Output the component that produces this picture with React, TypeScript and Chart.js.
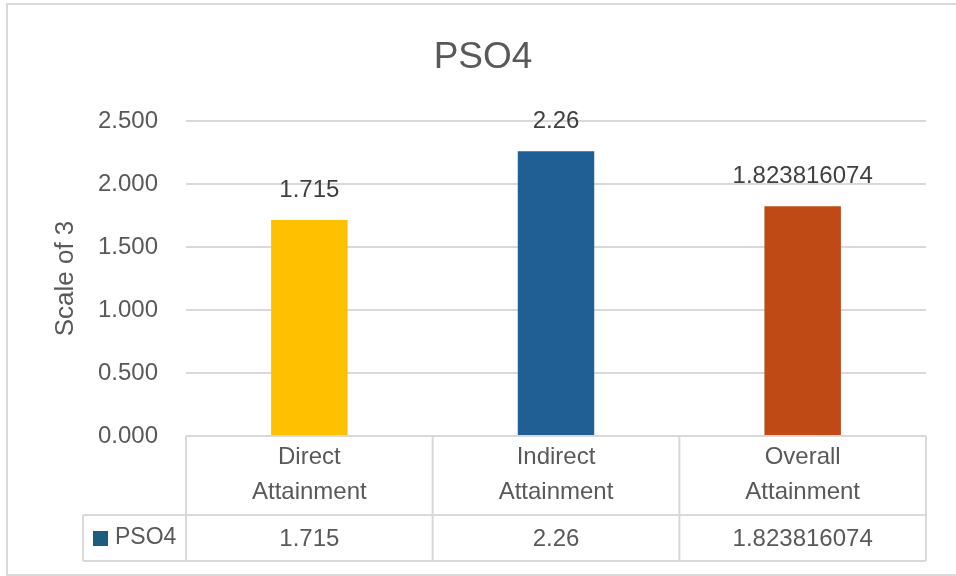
import React, { useEffect, useRef } from "react";
import { Chart, registerables } from "chart.js";

Chart.register(...registerables);

// Chart content
const chartTitle = "PSO4";
const axisTitle = "Scale of 3";
const seriesName = "PSO4";
const categories: string[][] = [
  ["Direct", "Attainment"],
  ["Indirect", "Attainment"],
  ["Overall", "Attainment"],
];
const values: number[] = [1.715, 2.26, 1.823816074];
const barColors: string[] = ["#FFC000", "#1F5F94", "#BF4A16"];
const legendKeyColor = "#1D5C7E";
const yMin = 0;
const yMax = 2.5;
const yStep = 0.5;

const FONT = "'Liberation Sans', Arial, sans-serif";
const TEXT = "#595959";
const LINE = "#D9D9D9";

// Draws the frame, the title, value labels and the data table under the axis
const decorations = {
  id: "decorations",
  beforeDraw(chart: Chart) {
    const { ctx, width, height } = chart;
    ctx.save();
    ctx.fillStyle = "#ffffff";
    ctx.fillRect(0, 0, width, height);
    ctx.strokeStyle = LINE;
    ctx.lineWidth = 2;
    ctx.strokeRect(7, 4, width + 10, height - 5);
    ctx.fillStyle = TEXT;
    ctx.font = `37px ${FONT}`;
    ctx.textAlign = "center";
    ctx.textBaseline = "alphabetic";
    ctx.fillText(chartTitle, 483, 68);
    ctx.restore();
  },
  afterDatasetsDraw(chart: Chart) {
    const { ctx } = chart;
    const meta = chart.getDatasetMeta(0);
    ctx.save();
    ctx.fillStyle = "#404040";
    ctx.font = `24px ${FONT}`;
    ctx.textAlign = "center";
    ctx.textBaseline = "alphabetic";
    meta.data.forEach((bar: any, i: number) => {
      ctx.fillText(String(values[i]), bar.x, bar.y - 23);
    });
    ctx.restore();
  },
  afterDraw(chart: Chart) {
    const { ctx, chartArea } = chart;
    const xs: any = chart.scales.x;
    const n = categories.length;
    const colW = (chartArea.right - chartArea.left) / n;
    const top = chartArea.bottom;
    const headerH = 79;
    const rowH = 46;
    const legendLeft = 83;
    const rowTop = top + headerH;
    const rowBottom = rowTop + rowH;

    ctx.save();
    ctx.strokeStyle = LINE;
    ctx.lineWidth = 2;
    ctx.beginPath();
    ctx.moveTo(chartArea.left, top);
    ctx.lineTo(chartArea.right, top);
    ctx.moveTo(legendLeft, rowTop);
    ctx.lineTo(chartArea.right, rowTop);
    ctx.moveTo(legendLeft, rowBottom);
    ctx.lineTo(chartArea.right, rowBottom);
    for (let i = 0; i <= n; i++) {
      const x = chartArea.left + i * colW;
      ctx.moveTo(x, top);
      ctx.lineTo(x, rowBottom);
    }
    ctx.moveTo(legendLeft, rowTop);
    ctx.lineTo(legendLeft, rowBottom);
    ctx.stroke();

    ctx.fillStyle = TEXT;
    ctx.font = `24px ${FONT}`;
    ctx.textAlign = "center";
    ctx.textBaseline = "middle";
    categories.forEach((lines, i) => {
      const cx = xs.getPixelForValue(i);
      lines.forEach((line, j) => {
        ctx.fillText(line, cx, top + 21 + j * 35);
      });
      ctx.fillText(String(values[i]), cx, rowTop + rowH / 2 + 1);
    });

    ctx.fillStyle = legendKeyColor;
    ctx.fillRect(93, rowTop + 16, 15, 15);
    ctx.fillStyle = TEXT;
    ctx.textAlign = "left";
    ctx.font = `23px ${FONT}`;
    ctx.fillText(seriesName, 115, rowTop + rowH / 2);
    ctx.restore();
  },
};

export default function App() {
  const canvasRef = useRef<HTMLCanvasElement | null>(null);

  useEffect(() => {
    const canvas = canvasRef.current;
    if (!canvas) return;
    const chart = new Chart(canvas, {
      type: "bar",
      data: {
        labels: categories.map((c) => c.join(" ")),
        datasets: [
          {
            label: seriesName,
            data: values,
            backgroundColor: barColors,
            borderWidth: 0,
            categoryPercentage: 1,
            barPercentage: 0.31,
          },
        ],
      },
      options: {
        responsive: false,
        animation: false,
        devicePixelRatio: 1,
        layout: { padding: { top: 121, left: 50, right: 30, bottom: 0 } },
        plugins: {
          legend: { display: false },
          title: { display: false },
          tooltip: { enabled: false },
        },
        scales: {
          x: {
            grid: { display: false },
            border: { display: false },
            ticks: { display: false },
            afterFit: (s: any) => {
              s.height = 140;
            },
          },
          y: {
            min: yMin,
            max: yMax,
            ticks: {
              stepSize: yStep,
              padding: 28,
              color: TEXT,
              font: { family: FONT, size: 24 },
              callback: (v: any) => Number(v).toFixed(3),
            },
            grid: { color: LINE, lineWidth: 2, drawTicks: false },
            border: { display: false },
            title: {
              display: true,
              text: axisTitle,
              color: TEXT,
              font: { family: FONT, size: 26 },
              padding: 0,
            },
            afterFit: (s: any) => {
              s.width = 136;
            },
          },
        },
      },
      plugins: [decorations],
    });
    return () => chart.destroy();
  }, []);

  return (
    <div style={{ position: "absolute", left: 0, top: 0, width: 956, height: 576, background: "#fff" }}>
      <canvas ref={canvasRef} width={956} height={576} style={{ display: "block" }} />
    </div>
  );
}
